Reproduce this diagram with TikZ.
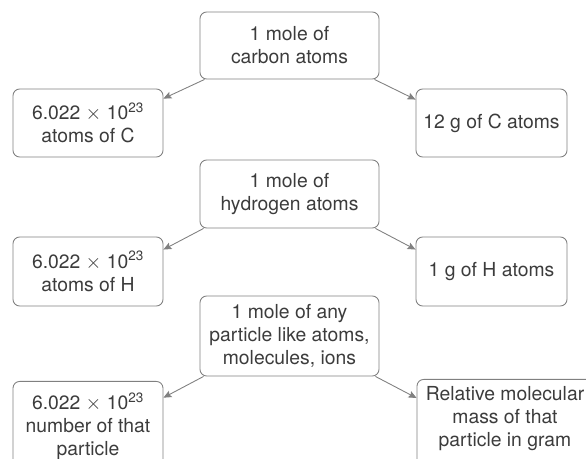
\documentclass[tikz,border=0pt]{standalone}
\usepackage{fontspec}
\setmainfont{TeX Gyre Heros}
\usepackage{tikz}
\usetikzlibrary{arrows.meta,positioning}
\definecolor{boxgray}{RGB}{128,128,128}
\definecolor{textgray}{RGB}{60,60,60}

\tikzset{
  molebox/.style={draw=boxgray, line width=0.75pt, rounded corners=0.2cm,
    align=center, text=textgray, inner xsep=0.1cm,
    font=\fontsize{16.5}{19.6}\selectfont},
  link/.style={draw=boxgray, line width=0.75pt,
    -{Stealth[length=2.4mm,width=2.1mm,inset=0.4mm]}}
}

\begin{document}
\begin{tikzpicture}[x=0.03cm,y=-0.03cm]
  \useasboundingbox (0,0) rectangle (586,459);
  \clip (0,0) rectangle (586,459);

  % carbon
  \node[molebox, minimum width=5.37cm, minimum height=2.01cm] (mc) at (289.5,45.5)
    {1 mole of\\carbon atoms};
  \node[molebox, minimum width=4.5cm, minimum height=2.04cm] (nc) at (88,123)
    {6.022 $\times$ 10\textsuperscript{23}\\atoms of C};
  \node[molebox, minimum width=4.53cm, minimum height=2.04cm] (gc) at (491.5,123)
    {12 g of C atoms};
  \draw[link] ([xshift=0.15cm]mc.south west) -- ([yshift=-0.3cm]nc.north east);
  \draw[link] ([xshift=-0.15cm]mc.south east) -- ([yshift=-0.33cm]gc.north west);

  % hydrogen
  \node[molebox, minimum width=5.37cm, minimum height=2.04cm] (mh) at (289.5,194)
    {1 mole of\\hydrogen atoms};
  \node[molebox, minimum width=4.5cm, minimum height=2.07cm] (nh) at (88,271.5)
    {6.022 $\times$ 10\textsuperscript{23}\\atoms of H};
  \node[molebox, minimum width=4.53cm, minimum height=2.07cm] (gh) at (491.5,271.5)
    {1 g of H atoms};
  \draw[link] ([xshift=0.12cm]mh.south west) -- ([yshift=-0.39cm]nh.north east);
  \draw[link] ([xshift=-0.12cm]mh.south east) -- ([yshift=-0.39cm]gh.north west);

  % any particle
  \node[molebox, minimum width=5.37cm, minimum height=2.4cm] (mp) at (289.5,336)
    {1 mole of any\\particle like atoms,\\molecules, ions};
  \node[molebox, anchor=north, minimum width=4.5cm, inner ysep=0.33cm,
    text depth=2.2cm] (np) at (88,381)
    {6.022 $\times$ 10\textsuperscript{23}\\number of that\\particle};
  \node[molebox, anchor=north, minimum width=5.28cm, inner ysep=0.21cm,
    text depth=2.2cm] (rp) at (505,379)
    {Relative molecular\\mass of that\\particle in gram};
  \draw[link] ([xshift=0.12cm]mp.south west) -- ([yshift=-0.5cm]np.north east);
  \draw[link] ([xshift=-0.12cm]mp.south east) -- ([yshift=-0.57cm]rp.north west);
\end{tikzpicture}
\end{document}
